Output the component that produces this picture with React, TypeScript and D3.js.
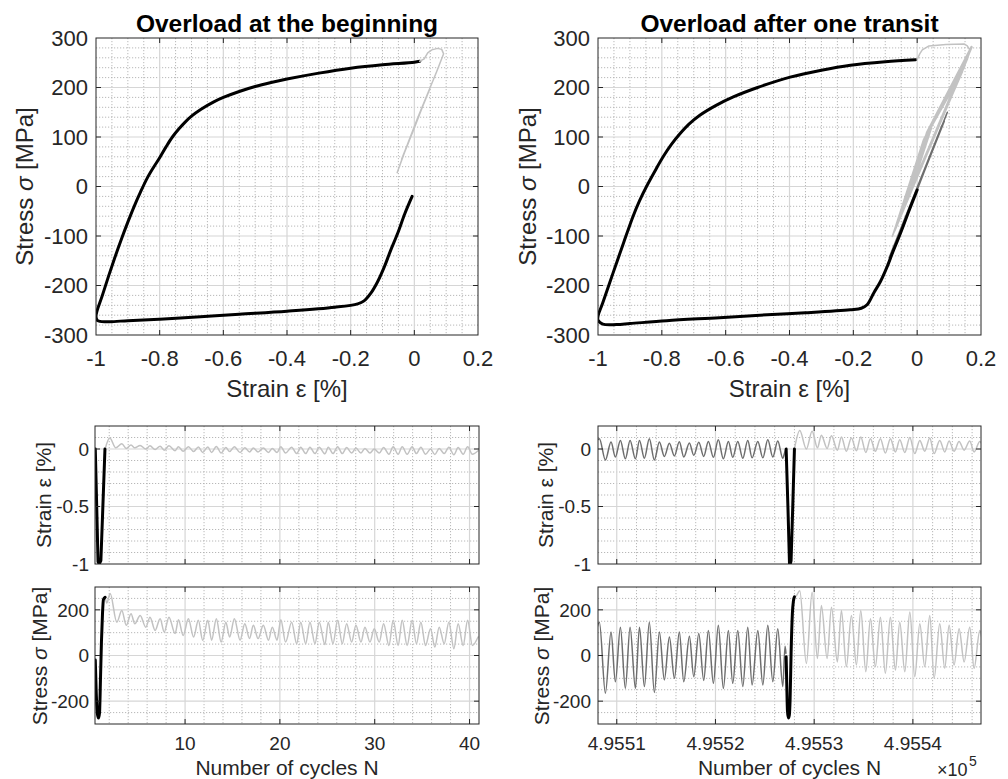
import React from 'react';
import * as d3 from 'd3';

const FONT = '"Liberation Sans", Arial, Helvetica, sans-serif';

// ---------------- titles & labels ----------------
const titleLeft = 'Overload at the beginning';
const titleRight = 'Overload after one transit';

// ---------------- tick values / labels ----------------
const strainTicksTop = [-1, -0.8, -0.6, -0.4, -0.2, 0, 0.2];
const strainTickLabelsTop = ['-1', '-0.8', '-0.6', '-0.4', '-0.2', '0', '0.2'];
const stressTicksTop = [-300, -200, -100, 0, 100, 200, 300];
const stressTickLabelsTop = ['-300', '-200', '-100', '0', '100', '200', '300'];
const strainTicksBottom = [-1, -0.5, 0];
const strainTickLabelsBottom = ['-1', '-0.5', '0'];
const stressTicksBottom = [-200, 0, 200];
const stressTickLabelsBottom = ['-200', '0', '200'];
const cycleTicksLeft = [10, 20, 30, 40];
const cycleTickLabelsLeft = ['10', '20', '30', '40'];
const cycleTicksRight = [495510, 495520, 495530, 495540];
const cycleTickLabelsRight = ['4.9551', '4.9552', '4.9553', '4.9554'];

// ---------------- top-left: stress-strain, overload at the beginning ----------------
const beginLoopBlack: [number, number][] = [
  [-0.007, -20], [-0.03, -55], [-0.052, -94], [-0.075, -130], [-0.094, -162], [-0.115, -192],
  [-0.136, -215], [-0.158, -231], [-0.178, -237], [-0.25, -244], [-0.4, -252], [-0.55, -258],
  [-0.672, -263], [-0.8, -268], [-0.9, -271], [-0.96, -273], [-0.995, -271], [-1.0, -262],
  [-0.98, -220], [-0.96, -180], [-0.94, -142], [-0.92, -106], [-0.9, -72], [-0.88, -40],
  [-0.86, -11], [-0.84, 16], [-0.82, 38], [-0.8, 58], [-0.78, 80], [-0.76, 100], [-0.74, 116],
  [-0.72, 130], [-0.7, 142], [-0.67, 156], [-0.63, 171], [-0.6, 180], [-0.55, 192], [-0.5, 202],
  [-0.45, 210], [-0.4, 217], [-0.3, 229], [-0.2, 239], [-0.1, 246], [0.0, 251], [0.017, 253],
];
const beginLoopGray: [number, number][] = [
  [0.017, 253], [0.031, 258], [0.042, 270], [0.055, 276], [0.073, 279], [0.086, 277], [0.092, 268],
  [0.07, 232], [0.04, 185], [0.01, 138], [-0.02, 88], [-0.054, 28], [-0.035, 62], [0.0, 118],
  [0.03, 168], [0.048, 196], [0.02, 152], [-0.01, 104], [-0.04, 55], [-0.02, 86], [0.01, 136],
  [0.04, 184],
];

// ---------------- top-right: stress-strain, overload after one transit ----------------
const transitLoopBlack: [number, number][] = [
  [0.0, -7], [-0.025, -48], [-0.052, -94], [-0.075, -130], [-0.094, -162], [-0.115, -192],
  [-0.136, -215], [-0.157, -239], [-0.175, -246], [-0.21, -249], [-0.35, -255], [-0.47, -259],
  [-0.62, -265], [-0.785, -271], [-0.9, -277], [-0.942, -279], [-0.985, -278], [-1.0, -270],
  [-1.0, -262], [-0.985, -235], [-0.953, -175], [-0.92, -114], [-0.89, -60], [-0.87, -29],
  [-0.848, 0], [-0.82, 33], [-0.796, 60], [-0.77, 85], [-0.744, 106], [-0.715, 126],
  [-0.681, 144], [-0.63, 164], [-0.576, 181], [-0.5, 200], [-0.398, 221], [-0.3, 235],
  [-0.209, 245], [-0.1, 252], [-0.005, 256],
];
const transitBeforeGray: [number, number][] = [
  [-0.095, -165], [0.092, 146], [-0.07, -115], [0.078, 124], [-0.088, -144], [0.0946, 150],
  [-0.08, -136], [0.085, 132], [-0.06, -100], [0.07, 110],
];
const transitAfterGray: [number, number][] = [
  [0.0, 256], [0.008, 268], [0.016, 276], [0.037, 284], [0.09, 287], [0.147, 288], [0.157, 284],
  [0.165, 276], [-0.035, -30], [0.03, 110], [0.17, 283], [-0.06, -70], [0.025, 100], [0.168, 276],
  [-0.078, -101], [0.02, 95], [0.172, 282], [-0.05, -50], [0.035, 110], [0.16, 262],
  [-0.065, -80], [0.03, 105], [0.163, 268], [-0.04, -40], [0.04, 120], [0.152, 250],
  [-0.07, -90], [0.025, 100], [0.158, 258], [-0.03, -28], [0.04, 115], [0.142, 232],
  [-0.045, -45], [0.035, 110], [0.15, 245], [-0.025, -20], [0.045, 118],
];

// ---------------- bottom-left: time histories, overload at the beginning ----------------
const beginStrainBlack: [number, number][] = [
  [0.53, 0], [0.68, -0.5], [0.82, -0.98], [0.95, -1.0], [1.12, -0.97], [1.33, -0.5], [1.55, 0],
];
const beginStressBlack: [number, number][] = [
  [0.53, -20], [0.62, -150], [0.75, -255], [0.87, -274], [0.98, -250], [1.08, -100], [1.18, 60],
  [1.29, 183], [1.39, 245], [1.57, 255],
];
const beginStrainGray: [number, number][] = [
  [1.57, 0], [2.05, 0.095], [2.7, 0.01], [3.33, 0.045], [3.8, 0.005], [4.3, 0.035], [4.7, 0.01],
  [5.26, 0.03], [5.86, 0.0], [6.3, 0.028], [6.84, -0.005], [7.37, 0.025], [7.8, -0.01],
  [8.3, 0.028], [8.95, -0.015], [9.3, 0.02], [9.8, -0.02], [10.35, 0.02], [10.9, -0.022],
  [11.4, 0.018], [11.86, -0.03], [12.4, 0.018], [12.8, -0.03], [13.3, 0.022], [13.8, -0.035],
  [14.3, 0.012], [14.7, -0.022], [15.2, 0.02], [15.8, -0.03], [16.3, 0.01], [16.8, -0.025],
  [17.2, 0.008], [17.7, -0.025], [18.25, 0.008], [18.8, -0.03], [19.2, 0.005], [19.7, -0.03],
  [20.1, 0.02], [20.6, -0.035], [21.24, 0.015], [21.77, -0.04], [22.2, 0.015], [22.72, -0.04],
  [23.17, 0.015], [23.7, -0.04], [24.15, 0.015], [24.75, -0.042], [25.1, 0.015], [25.6, -0.04],
  [26.09, 0.02], [26.58, -0.04], [27.04, 0.012], [27.57, -0.035], [28.02, 0.008], [28.55, -0.035],
  [28.97, 0.005], [29.5, -0.035], [29.95, 0.0], [30.48, -0.035], [30.94, 0.012], [31.5, -0.045],
  [31.95, 0.02], [32.47, -0.045], [32.9, 0.02], [33.42, -0.045], [33.95, 0.02], [34.4, -0.04],
  [34.87, 0.015], [35.36, -0.045], [35.89, 0.0], [36.34, -0.048], [36.8, 0.005], [37.33, -0.04],
  [37.82, 0.015], [38.35, -0.05], [38.8, 0.012], [39.33, -0.045], [39.8, 0.02], [40.3, -0.045],
  [40.9, -0.015],
];
const beginStressGray: [number, number][] = [
  [1.57, 255], [1.75, 230], [2.1, 272], [2.8, 146], [3.33, 197], [3.8, 132], [4.3, 183],
  [4.7, 139], [5.26, 175], [5.86, 124], [6.3, 168], [6.84, 110], [7.37, 161], [7.8, 103],
  [8.3, 168], [8.95, 96], [9.3, 157], [9.8, 88], [10.35, 161], [10.9, 81], [11.4, 154],
  [11.86, 67], [12.4, 154], [12.8, 67], [13.3, 161], [13.8, 59], [14.3, 146], [14.7, 81],
  [15.2, 161], [15.8, 67], [16.3, 139], [16.8, 74], [17.2, 132], [17.7, 74], [18.25, 132],
  [18.8, 67], [19.2, 124], [19.7, 67], [20.1, 157], [20.6, 59], [21.24, 146], [21.77, 52],
  [22.2, 146], [22.72, 52], [23.17, 146], [23.7, 52], [24.15, 146], [24.75, 48], [25.1, 146],
  [25.6, 52], [26.09, 154], [26.58, 52], [27.04, 139], [27.57, 59], [28.02, 132], [28.55, 59],
  [28.97, 124], [29.5, 59], [29.95, 117], [30.48, 59], [30.94, 139], [31.5, 44], [31.95, 154],
  [32.47, 44], [32.9, 154], [33.42, 44], [33.95, 154], [34.4, 52], [34.87, 146], [35.36, 44],
  [35.89, 117], [36.34, 37], [36.8, 124], [37.33, 52], [37.82, 146], [38.35, 30], [38.8, 139],
  [39.33, 44], [39.8, 154], [40.3, 44], [40.9, 81],
];

// ---------------- bottom-right: time histories, overload after one transit ----------------
const transitStrainBefore: [number, number][] = [
  [495507.9, 0.06], [495508.24, 0.09], [495508.85, -0.095], [495509.42, 0.06], [495509.86, -0.07],
  [495510.37, 0.075], [495510.87, -0.085], [495511.35, 0.075], [495511.89, -0.085], [495512.3, 0.075],
  [495512.8, -0.08], [495513.3, 0.09], [495513.81, -0.095], [495514.32, 0.06], [495514.82, -0.065],
  [495515.33, 0.05], [495515.84, -0.06], [495516.34, 0.062], [495516.79, -0.07], [495517.36, 0.052],
  [495517.8, -0.055], [495518.31, 0.058], [495518.81, -0.065], [495519.28, 0.066], [495519.79, -0.072],
  [495520.29, 0.08], [495520.8, -0.085], [495521.31, 0.066], [495521.75, -0.072], [495522.26, 0.066],
  [495522.77, -0.08], [495523.27, 0.075], [495523.71, -0.077], [495524.29, 0.066], [495524.8, -0.077],
  [495525.3, 0.08], [495525.81, -0.07], [495526.31, 0.07], [495526.82, -0.08], [495527.05, -0.02],
  [495527.14, 0.0],
];
const transitStressBefore: [number, number][] = [
  [495507.9, 100], [495508.24, 146], [495508.85, -165], [495509.42, 103], [495509.86, -115],
  [495510.37, 124], [495510.87, -144], [495511.35, 124], [495511.89, -144], [495512.3, 124],
  [495512.8, -136], [495513.3, 146], [495513.81, -162], [495514.32, 103], [495514.82, -107],
  [495515.33, 81], [495515.84, -100], [495516.34, 103], [495516.79, -115], [495517.36, 84],
  [495517.8, -93], [495518.31, 96], [495518.81, -109], [495519.28, 110], [495519.79, -122],
  [495520.29, 132], [495520.8, -144], [495521.31, 110], [495521.75, -122], [495522.26, 110],
  [495522.77, -136], [495523.27, 124], [495523.71, -129], [495524.29, 110], [495524.8, -129],
  [495525.3, 132], [495525.81, -115], [495526.31, 117], [495526.82, -136], [495527.05, 40],
  [495527.14, 10],
];
const transitStrainBlack: [number, number][] = [
  [495527.16, 0], [495527.34, -0.5], [495527.5, -1.0], [495527.58, -1.0], [495527.66, -0.97],
  [495527.83, -0.5], [495528.0, 0],
];
const transitStressBlack: [number, number][] = [
  [495527.16, -6], [495527.22, -120], [495527.29, -240], [495527.39, -274], [495527.48, -262],
  [495527.56, -194], [495527.66, 9], [495527.79, 183], [495527.9, 240], [495528.0, 257],
];
const transitStrainAfter: [number, number][] = [
  [495528.0, 0], [495528.54, 0.16], [495529.21, 0.0], [495529.79, 0.155], [495530.33, 0.01],
  [495530.73, 0.12], [495531.31, 0.005], [495531.75, 0.115], [495532.35, -0.01], [495532.76, 0.105],
  [495533.26, -0.02], [495533.77, 0.095], [495534.28, -0.015], [495534.72, 0.105], [495535.23, -0.03],
  [495535.7, 0.09], [495536.2, -0.02], [495536.71, 0.09], [495537.21, -0.035], [495537.72, 0.09],
  [495538.23, -0.025], [495538.67, 0.08], [495539.18, -0.03], [495539.69, 0.1], [495540.19, -0.04],
  [495540.7, 0.075], [495541.2, -0.02], [495541.71, 0.095], [495542.15, -0.04], [495542.72, 0.075],
  [495543.23, -0.025], [495543.67, 0.07], [495544.17, -0.02], [495544.68, 0.065], [495545.19, -0.01],
  [495545.76, 0.07], [495546.2, -0.025], [495546.78, 0.065], [495547.1, 0.02],
];
const transitStressAfter: [number, number][] = [
  [495528.0, 257], [495528.2, 262], [495528.54, 284], [495529.21, -35], [495529.79, 277],
  [495530.33, -13], [495530.73, 219], [495531.31, -13], [495531.75, 211], [495532.35, -28],
  [495532.76, 197], [495533.26, -49], [495533.77, 175], [495534.28, -42], [495534.72, 197],
  [495535.23, -71], [495535.7, 161], [495536.2, -49], [495536.71, 168], [495537.21, -78],
  [495537.72, 168], [495538.23, -64], [495538.67, 146], [495539.18, -71], [495539.69, 190],
  [495540.19, -93], [495540.7, 139], [495541.2, -49], [495541.71, 175], [495542.15, -100],
  [495542.72, 139], [495543.23, -56], [495543.67, 132], [495544.17, -42], [495544.68, 117],
  [495545.19, -28], [495545.76, 124], [495546.2, -56], [495546.78, 110], [495547.1, 38],
];

// ---------------- styling ----------------
const BLACK = '#000000';
const DARK = '#6e6e6e';
const LIGHT = '#c2c2c2';
const AXIS = '#262626';

type Series = { data: [number, number][]; color: string; width: number; curve: any };

type PanelProps = {
  id: string;
  left: number; top: number; width: number; height: number;
  xDomain: [number, number]; yDomain: [number, number];
  xMajor: number[]; xMinor: number[]; yMajor: number[]; yMinor: number[];
  xTickText?: string[]; yTickText: string[];
  fs: number; xLabelY: number; yLabelRight: number;
  series: Series[];
};

const near = (a: number, list: number[]) => list.some(b => Math.abs(a - b) < 1e-6);

function Panel(p: PanelProps) {
  const x = d3.scaleLinear().domain(p.xDomain).range([p.left, p.left + p.width]);
  const y = d3.scaleLinear().domain(p.yDomain).range([p.top + p.height, p.top]);
  const tl = 5;
  const bottom = p.top + p.height;
  const right = p.left + p.width;
  const inX = (v: number) => x(v) > p.left + 0.5 && x(v) < right - 0.5;
  const inY = (v: number) => y(v) < bottom - 0.5 && y(v) > p.top + 0.5;
  return (
    <g>
      <defs>
        <clipPath id={p.id}>
          <rect x={p.left} y={p.top} width={p.width} height={p.height} />
        </clipPath>
      </defs>
      <rect x={p.left} y={p.top} width={p.width} height={p.height} fill="#ffffff" />
      {p.xMinor.filter(v => !near(v, p.xMajor) && inX(v)).map((v, i) => (
        <line key={'xm' + i} x1={x(v)} x2={x(v)} y1={p.top} y2={bottom} stroke="#b0b0b0" strokeWidth={0.9} strokeDasharray="1.2 1.8" />
      ))}
      {p.yMinor.filter(v => !near(v, p.yMajor) && inY(v)).map((v, i) => (
        <line key={'ym' + i} x1={p.left} x2={right} y1={y(v)} y2={y(v)} stroke="#b0b0b0" strokeWidth={0.9} strokeDasharray="1.2 1.8" />
      ))}
      {p.xMajor.filter(inX).map((v, i) => (
        <line key={'xM' + i} x1={x(v)} x2={x(v)} y1={p.top} y2={bottom} stroke="#d6d6d6" strokeWidth={1.2} />
      ))}
      {p.yMajor.filter(inY).map((v, i) => (
        <line key={'yM' + i} x1={p.left} x2={right} y1={y(v)} y2={y(v)} stroke="#d6d6d6" strokeWidth={1.2} />
      ))}
      <g clipPath={`url(#${p.id})`}>
        {p.series.map((s, i) => {
          const gen = d3.line<[number, number]>().x(d => x(d[0])).y(d => y(d[1])).curve(s.curve);
          return (
            <path key={'s' + i} d={gen(s.data) || ''} fill="none" stroke={s.color} strokeWidth={s.width}
              strokeLinejoin="round" strokeLinecap="round" />
          );
        })}
      </g>
      <rect x={p.left} y={p.top} width={p.width} height={p.height} fill="none" stroke={AXIS} strokeWidth={1} />
      {p.xMajor.filter(inX).map((v, i) => (
        <g key={'xt' + i}>
          <line x1={x(v)} x2={x(v)} y1={bottom} y2={bottom - tl} stroke={AXIS} strokeWidth={1} />
          <line x1={x(v)} x2={x(v)} y1={p.top} y2={p.top + tl} stroke={AXIS} strokeWidth={1} />
        </g>
      ))}
      {p.yMajor.filter(inY).map((v, i) => (
        <g key={'yt' + i}>
          <line x1={p.left} x2={p.left + tl} y1={y(v)} y2={y(v)} stroke={AXIS} strokeWidth={1} />
          <line x1={right} x2={right - tl} y1={y(v)} y2={y(v)} stroke={AXIS} strokeWidth={1} />
        </g>
      ))}
      {p.xTickText && p.xMajor.map((v, i) => (
        <text key={'xl' + i} x={x(v)} y={p.xLabelY} textAnchor="middle" fontSize={p.fs} fill={AXIS} fontFamily={FONT}>
          {p.xTickText![i]}
        </text>
      ))}
      {p.yMajor.map((v, i) => (
        <text key={'yl' + i} x={p.yLabelRight} y={y(v)} dy="0.36em" textAnchor="end" fontSize={p.fs} fill={AXIS} fontFamily={FONT}>
          {p.yTickText[i]}
        </text>
      ))}
    </g>
  );
}

function YLabel({ x, y, fs, kind }: { x: number; y: number; fs: number; kind: 'stress' | 'strain' }) {
  return (
    <text transform={`translate(${x},${y}) rotate(-90)`} textAnchor="middle" fontSize={fs} fill={AXIS} fontFamily={FONT}>
      {kind === 'stress' ? (
        <>
          Stress <tspan fontStyle="italic">σ</tspan> [MPa]
        </>
      ) : (
        <>Strain ε [%]</>
      )}
    </text>
  );
}

export default function App() {
  const lin = d3.curveLinear;
  const smooth = d3.curveCatmullRom.alpha(0.5);
  const mono = d3.curveMonotoneX;
  const topCommon = {
    top: 38, height: 297,
    xDomain: [-1, 0.2] as [number, number], yDomain: [-300, 300] as [number, number],
    xMajor: strainTicksTop, xMinor: d3.range(-1, 0.2001, 0.05),
    yMajor: stressTicksTop, yMinor: d3.range(-300, 300.1, 20),
    xTickText: strainTickLabelsTop, yTickText: stressTickLabelsTop,
    fs: 22, xLabelY: 366,
  };
  const strainCommon = {
    top: 426, height: 138,
    yDomain: [-1, 0.2] as [number, number],
    yMajor: strainTicksBottom, yMinor: d3.range(-1, 0.2001, 0.1),
    yTickText: strainTickLabelsBottom, fs: 19, xLabelY: 750,
  };
  const stressCommon = {
    top: 587, height: 137,
    yDomain: [-300, 300] as [number, number],
    yMajor: stressTicksBottom, yMinor: d3.range(-300, 300.1, 50),
    yTickText: stressTickLabelsBottom, fs: 19, xLabelY: 750,
  };
  const leftX = { left: 95, width: 384, xDomain: [0.5, 41] as [number, number], xMajor: cycleTicksLeft, xMinor: d3.range(0, 42, 2) };
  const rightX = { left: 598, width: 383, xDomain: [495508.1, 495546.9] as [number, number], xMajor: cycleTicksRight, xMinor: d3.range(495508, 495548, 2) };

  return (
    <svg width={1008} height={779} style={{ position: 'absolute', left: 0, top: 0, background: '#ffffff' }}>
      <rect x={0} y={0} width={1008} height={779} fill="#ffffff" />
      {/* top-left */}
      <Panel id="c1" left={96} width={382} {...topCommon} yLabelRight={88}
        series={[
          { data: beginLoopBlack, color: BLACK, width: 3, curve: smooth },
          { data: beginLoopGray, color: LIGHT, width: 1.5, curve: lin },
        ]} />
      <text x={287} y={31.5} textAnchor="middle" fontSize={24.5} fontWeight="bold" fill="#000" fontFamily={FONT}>{titleLeft}</text>
      <text x={287} y={397} textAnchor="middle" fontSize={24} fill={AXIS} fontFamily={FONT}>Strain ε [%]</text>
      <YLabel x={33} y={186.5} fs={24} kind="stress" />

      {/* top-right */}
      <Panel id="c2" left={598} width={383} {...topCommon} yLabelRight={590}
        series={[
          { data: transitBeforeGray, color: DARK, width: 1.5, curve: lin },
          { data: transitLoopBlack, color: BLACK, width: 3, curve: smooth },
          { data: transitAfterGray, color: LIGHT, width: 1.5, curve: lin },
        ]} />
      <text x={789.5} y={31.5} textAnchor="middle" fontSize={24.5} fontWeight="bold" fill="#000" fontFamily={FONT}>{titleRight}</text>
      <text x={789.5} y={397} textAnchor="middle" fontSize={24} fill={AXIS} fontFamily={FONT}>Strain ε [%]</text>
      <YLabel x={536} y={186.5} fs={24} kind="stress" />

      {/* bottom-left strain */}
      <Panel id="c3" {...leftX} {...strainCommon} yLabelRight={89}
        series={[
          { data: beginStrainGray, color: LIGHT, width: 1.5, curve: mono },
          { data: beginStrainBlack, color: BLACK, width: 3, curve: lin },
        ]} />
      <YLabel x={51} y={495} fs={21} kind="strain" />
      {/* bottom-left stress */}
      <Panel id="c4" {...leftX} {...stressCommon} xTickText={cycleTickLabelsLeft} yLabelRight={89}
        series={[
          { data: beginStressGray, color: LIGHT, width: 1.5, curve: mono },
          { data: beginStressBlack, color: BLACK, width: 3, curve: mono },
        ]} />
      <YLabel x={47} y={656} fs={21} kind="stress" />
      <text x={287} y={775} textAnchor="middle" fontSize={21} fill={AXIS} fontFamily={FONT}>Number of cycles N</text>

      {/* bottom-right strain */}
      <Panel id="c5" {...rightX} {...strainCommon} yLabelRight={591}
        series={[
          { data: transitStrainBefore, color: DARK, width: 1.5, curve: mono },
          { data: transitStrainAfter, color: LIGHT, width: 1.5, curve: mono },
          { data: transitStrainBlack, color: BLACK, width: 3, curve: lin },
        ]} />
      <YLabel x={553} y={495} fs={21} kind="strain" />
      {/* bottom-right stress */}
      <Panel id="c6" {...rightX} {...stressCommon} xTickText={cycleTickLabelsRight} yLabelRight={591}
        series={[
          { data: transitStressBefore, color: DARK, width: 1.5, curve: mono },
          { data: transitStressAfter, color: LIGHT, width: 1.5, curve: mono },
          { data: transitStressBlack, color: BLACK, width: 3, curve: mono },
        ]} />
      <YLabel x={549} y={656} fs={21} kind="stress" />
      <text x={789.5} y={775} textAnchor="middle" fontSize={21} fill={AXIS} fontFamily={FONT}>Number of cycles N</text>
      <text x={937} y={776} fontSize={18} fill={AXIS} fontFamily={FONT}>×10</text>
      <text x={969} y={766} fontSize={14} fill={AXIS} fontFamily={FONT}>5</text>
    </svg>
  );
}
